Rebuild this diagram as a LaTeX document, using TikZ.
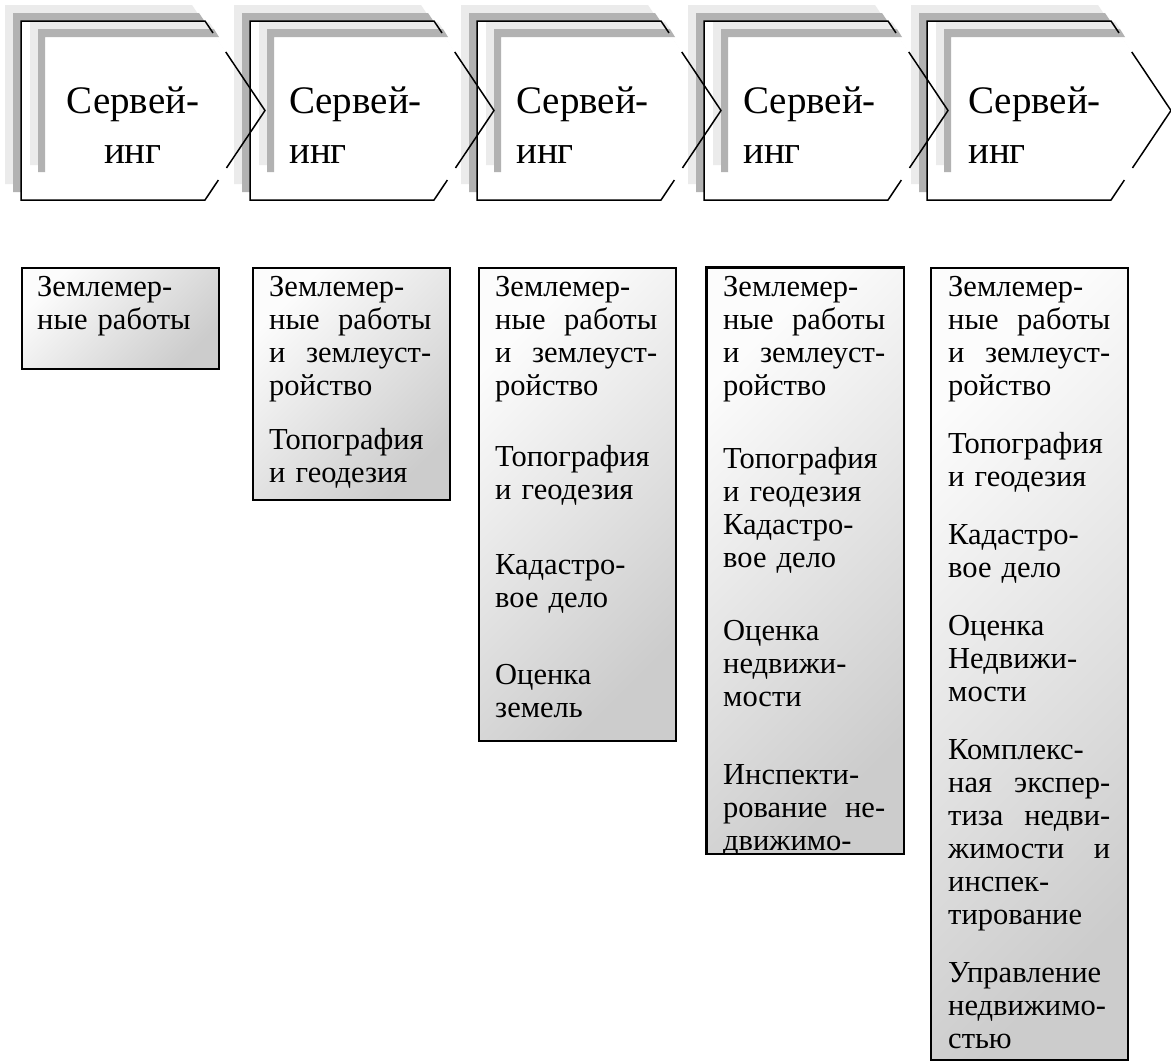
\documentclass[tikz,border=0pt]{standalone}
\usepackage{fontspec}
\setmainfont{Liberation Serif}
\usetikzlibrary{calc}
\definecolor{bandlight}{gray}{0.92}
\definecolor{bandmid}{gray}{0.70}
\definecolor{boxlight}{gray}{0.99}
\definecolor{boxdark}{gray}{0.80}
% justified two-word line: first word flush left, second flush right
\newcommand\spread[2]{\leavevmode\hbox to 162pt{#1\hfill#2}}
\newcommand\topstrut{\rule{0pt}{24pt}}
\begin{document}
\begin{tikzpicture}[x=1pt,y=-1pt,
  outline/.style={draw=black,line width=1.5pt,line join=miter},
  chevtext/.style={font=\fontsize{39}{50}\selectfont,inner sep=0pt},
  boxframe/.style={draw=black,line width=1.5pt,minimum width=197pt,inner sep=0pt,
    anchor=north west,top color=boxlight,bottom color=boxdark,shading angle=45},
  boxtext/.style={font=\fontsize{30.5}{33}\selectfont,inner sep=0pt,text width=162pt,
    align=left,anchor=north west}]
\useasboundingbox (0,0) rectangle (1171,1061);
\fill[white] (0,0) rectangle (1171,1061);

% chevron bodies: back bands, white face, inner bevel bands
\foreach \x in {21,250,477,704,927}{
  \fill[bandlight] (\x-16,5) -- (\x+171,5) -- (\x+231,94.5) -- (\x+171,184) -- (\x-16,184) -- cycle;
  \fill[bandmid] (\x-8,13) -- (\x+178,13) -- (\x+238,102.5) -- (\x+178,192) -- (\x-8,192) -- cycle;
  \fill[white] (\x,21) -- (\x+184,21) -- (\x+244,110.5) -- (\x+184,200) -- (\x,200) -- cycle;
  \fill[bandlight] (\x+9,22) -- (\x+188,22) -- (\x+193,29) -- (\x+17,29) -- (\x+17,165) -- (\x+9,165) -- cycle;
  \fill[bandmid] (\x+17,29) -- (\x+193,29) -- (\x+198,37) -- (\x+24,37) -- (\x+24,172) -- (\x+17,172) -- cycle;
}
% chevron outlines, broken where the bevel face overlaps them
\foreach \x in {21,250,477,704,927}{
  \draw[outline] ($(\x+184,21)!0.134!(\x+244,110.5)$) -- (\x+184,21) -- (\x,21) -- (\x,200)
    -- (\x+184,200) -- ($(\x+184,200)!0.223!(\x+244,110.5)$);
  \draw[outline] ($(\x+184,21)!0.346!(\x+244,110.5)$) -- (\x+244,110.5)
    -- ($(\x+244,110.5)!0.642!(\x+184,200)$);
}

% chevron captions
\node[chevtext,align=center,anchor=north] (c1) at (133,81) {\rule{0pt}{32pt}Сервей-\\инг};
\node[chevtext,align=left,anchor=north west] (c2) at (289,81) {\rule{0pt}{32pt}Сервей-\\инг};
\node[chevtext,align=left,anchor=north west] (c3) at (516,81) {\rule{0pt}{32pt}Сервей-\\инг};
\node[chevtext,align=left,anchor=north west] (c4) at (743,81) {\rule{0pt}{32pt}Сервей-\\инг};
\node[chevtext,align=left,anchor=north west] (c5) at (968,81) {\rule{0pt}{32pt}Сервей-\\инг};

% list boxes
\node[boxframe,minimum height=101pt] (b1) at (21,267) {};
\node[boxframe,minimum height=232pt] (b2) at (252,267) {};
\node[boxframe,minimum height=473pt] (b3) at (478,267) {};
\node[boxframe,minimum height=586pt] (b4) at (706,267) {};
\node[boxframe,minimum height=792pt] (b5) at (930,267) {};

\node[boxtext] (t1) at (37,272) {\topstrut Землемер-\\ные работы};
\node[boxtext] (t2) at (269,272) {\topstrut Землемер-\\\spread{ные}{работы}\\\spread{и}{землеуст-}\\ройство\\[21pt]
  Топография\\и геодезия};
\node[boxtext] (t3) at (495,272) {\topstrut Землемер-\\\spread{ные}{работы}\\\spread{и}{землеуст-}\\ройство\\[38pt]
  Топография\\и геодезия\\[42pt]Кадастро-\\вое дело\\[44pt]Оценка\\земель};
\begin{scope}
  \clip (706,267) rectangle (903,853);
  \node[boxtext] (t4) at (723,272) {\topstrut Землемер-\\\spread{ные}{работы}\\\spread{и}{землеуст-}\\ройство\\[40pt]
    Топография\\и геодезия\\Кадастро-\\вое дело\\[40pt]Оценка\\недвижи-\\мости\\[45pt]
    Инспекти-\\\spread{рование}{не-}\\движимо-};
\end{scope}
\draw[line width=1.5pt] (b4.north west) rectangle (b4.south east);
\node[boxtext] (t5) at (948,272) {\topstrut Землемер-\\\spread{ные}{работы}\\\spread{и}{землеуст-}\\ройство\\[25pt]
  Топография\\и геодезия\\[25pt]Кадастро-\\вое дело\\[25pt]Оценка\\Недвижи-\\мости\\[25pt]
  Комплекс-\\\spread{ная}{экспер-}\\\spread{тиза}{недви-}\\\spread{жимости}{и}\\инспек-\\тирование\\[25pt]
  Управление\\недвижимо-\\стью};
\end{tikzpicture}
\end{document}
